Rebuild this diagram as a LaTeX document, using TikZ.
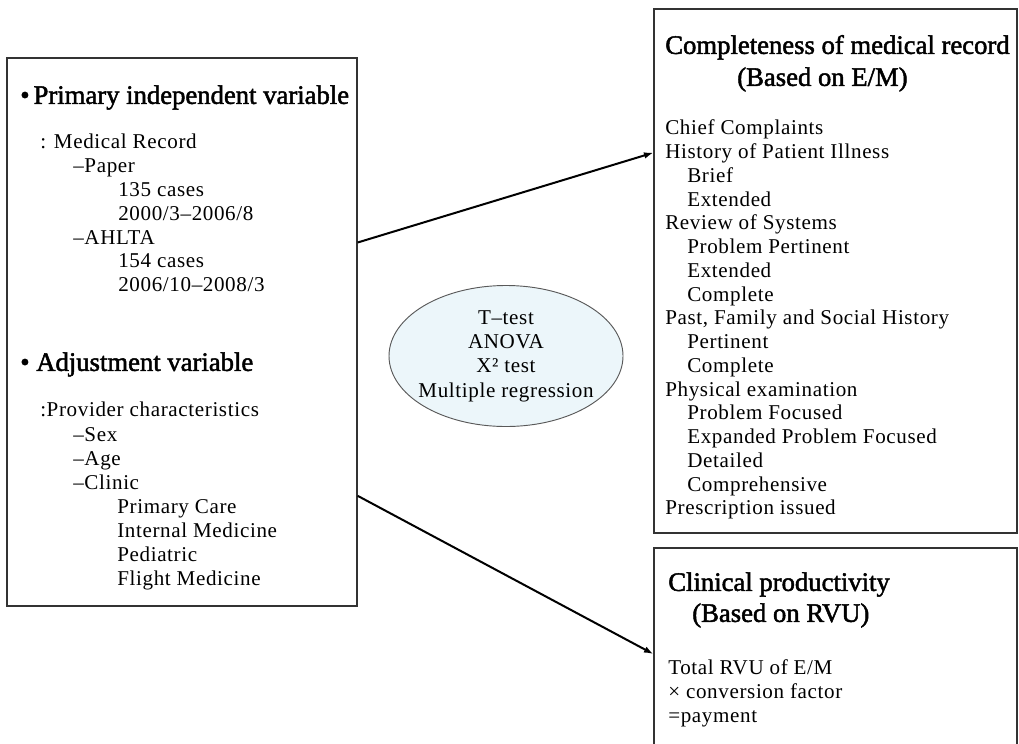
\documentclass[tikz,border=0pt]{standalone}
\usepackage{fontspec}
\setmainfont{Liberation Serif}
\newfontfamily\headfont[FakeBold=1.8]{Liberation Serif}
\newfontfamily\listfont[LetterSpace=3]{Liberation Serif}
\usetikzlibrary{shapes.geometric,arrows.meta}
\definecolor{ovalfill}{RGB}{236,246,250}
\tikzset{
box/.style={draw=black!80,line width=1pt,inner sep=0pt},
head/.style={anchor=west,inner sep=0pt,text height=13.3pt,text depth=0pt,font=\headfont\fontsize{20pt}{24pt}\selectfont},
item/.style={anchor=west,inner sep=0pt,text height=10.4pt,text depth=0pt,font=\listfont\fontsize{15.8pt}{17.8pt}\selectfont},
testoval/.style={ellipse,draw=black!65,line width=0.7pt,fill=ovalfill,inner sep=-4pt,align=center,
font=\listfont\fontsize{15.8pt}{18.2pt}\selectfont},
link/.style={-{Latex[length=7pt,width=5pt]},line width=1.5pt,black}
}
\begin{document}
\begin{tikzpicture}[x=0.75pt,y=-0.75pt]
\clip (0,0) rectangle (1019,743);
\fill[white] (0,0) rectangle (1019,743);
% boxes
\node[box,minimum width=262.5pt,minimum height=411pt] (indep) at (182,332) {};
\node[box,minimum width=272.25pt,minimum height=393pt] (compl) at (835.5,271) {};
\node[box,minimum width=272.25pt,minimum height=159pt] (prod) at (835.5,654) {};
\node[testoval,minimum width=175.5pt,minimum height=105.75pt] (stats) at (506,356)
  {T–test\\ANOVA\\X² test\\Multiple regression};
% connectors
\draw[link] (indep.27) -- (compl.147.4);
\draw[link] (indep.-43) -- (prod.west);
% left box
\node[head] (primary) at (20,95) {•\hspace{3pt}Primary independent variable};
\foreach \x/\y/\t [count=\i] in {40/142/{: Medical Record},73/166/{–Paper},
  118/190/{135 cases},118/214/{2000/3–2006/8},73/238/{–AHLTA},
  118/261/{154 cases},118/285/{2006/10–2008/3}}
  \node[item] (pri-\i) at (\x,\y) {\t};
\node[head] (adjust) at (20,362) {•\hspace{5pt}Adjustment variable};
\foreach \x/\y/\t [count=\i] in {40/410/{:Provider characteristics},73/435/{–Sex},
  73/459/{–Age},73/483/{–Clinic},117/507/{Primary Care},
  117/531/{Internal Medicine},117/555/{Pediatric},117/579/{Flight Medicine}}
  \node[item] (adj-\i) at (\x,\y) {\t};
% completeness box
\node[head] (cmphead) at (665,45) {Completeness of medical record};
\node[head] (cmpsub) at (737,77) {(Based on E/M)};
\foreach \x/\t [count=\i from 0] in {665/{Chief Complaints},665/{History of Patient Illness},
  687/{Brief},687/{Extended},665/{Review of Systems},687/{Problem Pertinent},
  687/{Extended},687/{Complete},665/{Past, Family and Social History},
  687/{Pertinent},687/{Complete},665/{Physical examination},687/{Problem Focused},
  687/{Expanded Problem Focused},687/{Detailed},687/{Comprehensive},
  665/{Prescription issued}}
  \node[item] (cmp-\i) at (\x,{128+23.75*\i}) {\t};
% productivity box
\node[head] (prohead) at (668,582) {Clinical productivity};
\node[head] (prosub) at (692,613) {(Based on RVU)};
\node[item] (pro-1) at (668,668) {Total RVU of E/M};
\node[item] (pro-2) at (668,692) {× conversion factor};
\node[item] (pro-3) at (668,716) {=payment};
\end{tikzpicture}
\end{document}
